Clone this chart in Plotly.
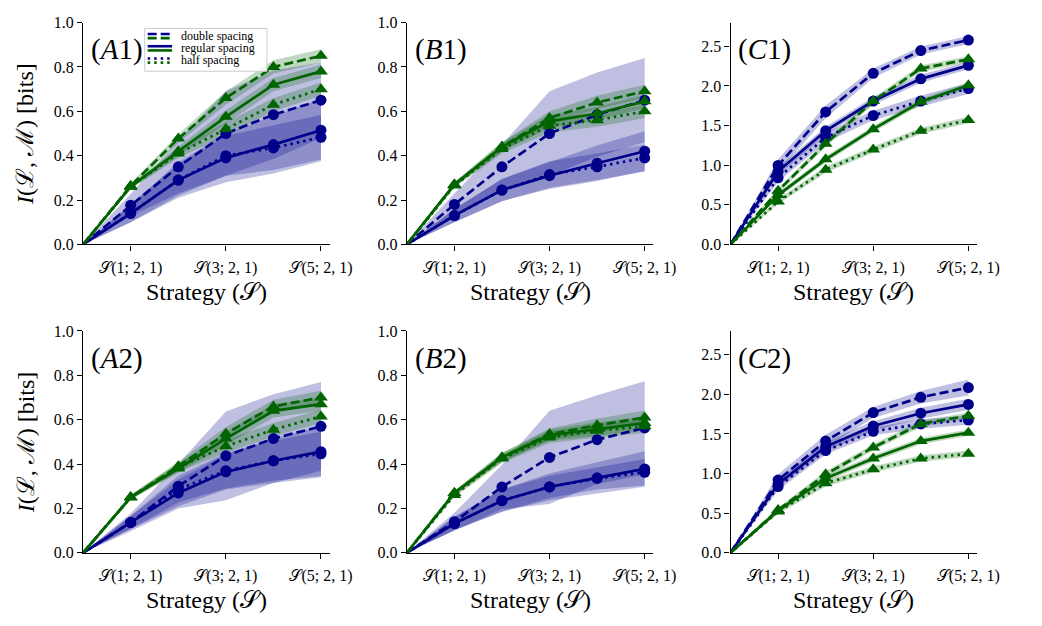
import plotly.graph_objects as go

# ---------------- data ----------------
x_positions = [0, 1, 2, 3, 4, 5]
tick_vals = [1, 3, 5]
tick_labels = ["𝒮(1; 2, 1)", "𝒮(3; 2, 1)", "𝒮(5; 2, 1)"]
spacings = ["double", "regular", "half"]
legend_labels = ["double spacing", "regular spacing", "half spacing"]

# Panel A1
A1_blue_double = [0, 0.177, 0.35, 0.50, 0.585, 0.65]
A1_blue_regular = [0, 0.14, 0.29, 0.39, 0.45, 0.515]
A1_blue_half = [0, 0.14, 0.29, 0.40, 0.435, 0.483]
A1_green_double = [0, 0.264, 0.477, 0.66, 0.80, 0.85]
A1_green_regular = [0, 0.26, 0.42, 0.575, 0.72, 0.78]
A1_green_half = [0, 0.26, 0.41, 0.52, 0.63, 0.70]
A1_blue_double_sd = [0, 0.05, 0.12, 0.19, 0.20, 0.17]
A1_blue_regular_sd = [0, 0.04, 0.08, 0.11, 0.13, 0.14]
A1_blue_half_sd = [0, 0.04, 0.07, 0.09, 0.10, 0.10]
A1_green_sd = [0, 0.01, 0.02, 0.03, 0.03, 0.03]

# Panel A2
A2_blue_double = [0, 0.137, 0.30, 0.437, 0.515, 0.57]
A2_blue_regular = [0, 0.137, 0.27, 0.365, 0.415, 0.456]
A2_blue_half = [0, 0.137, 0.287, 0.37, 0.415, 0.446]
A2_green_double = [0, 0.25, 0.39, 0.537, 0.66, 0.70]
A2_green_regular = [0, 0.25, 0.38, 0.515, 0.64, 0.67]
A2_green_half = [0, 0.25, 0.385, 0.48, 0.555, 0.615]
A2_blue_double_sd = [0, 0.04, 0.10, 0.20, 0.20, 0.20]
A2_blue_regular_sd = [0, 0.03, 0.06, 0.08, 0.10, 0.115]
A2_blue_half_sd = [0, 0.03, 0.06, 0.08, 0.09, 0.10]
A2_green_sd = [0, 0.01, 0.02, 0.03, 0.03, 0.03]

# Panel B1
B1_blue_double = [0, 0.18, 0.35, 0.50, 0.585, 0.65]
B1_blue_regular = [0, 0.13, 0.245, 0.31, 0.366, 0.42]
B1_blue_half = [0, 0.13, 0.245, 0.315, 0.35, 0.39]
B1_green_double = [0, 0.27, 0.44, 0.57, 0.64, 0.69]
B1_green_regular = [0, 0.27, 0.44, 0.555, 0.59, 0.645]
B1_green_half = [0, 0.265, 0.43, 0.535, 0.56, 0.60]
B1_blue_double_sd = [0, 0.05, 0.10, 0.19, 0.19, 0.19]
B1_blue_regular_sd = [0, 0.03, 0.05, 0.06, 0.08, 0.09]
B1_blue_half_sd = [0, 0.03, 0.05, 0.06, 0.06, 0.06]
B1_green_sd = [0, 0.01, 0.02, 0.03, 0.03, 0.03]

# Panel B2
B2_blue_double = [0, 0.14, 0.297, 0.43, 0.51, 0.563]
B2_blue_regular = [0, 0.132, 0.235, 0.297, 0.338, 0.378]
B2_blue_half = [0, 0.132, 0.235, 0.297, 0.335, 0.363]
B2_green_double = [0, 0.27, 0.43, 0.535, 0.575, 0.61]
B2_green_regular = [0, 0.27, 0.43, 0.53, 0.557, 0.585]
B2_green_half = [0, 0.26, 0.425, 0.52, 0.55, 0.57]
B2_blue_double_sd = [0, 0.04, 0.10, 0.21, 0.20, 0.21]
B2_blue_regular_sd = [0, 0.03, 0.05, 0.06, 0.07, 0.08]
B2_blue_half_sd = [0, 0.03, 0.05, 0.05, 0.05, 0.06]
B2_green_sd = [0, 0.01, 0.02, 0.025, 0.03, 0.03]

# Panel C1
C1_blue_double = [0, 0.996, 1.672, 2.16, 2.447, 2.58]
C1_blue_regular = [0, 0.92, 1.434, 1.81, 2.09, 2.26]
C1_blue_half = [0, 0.84, 1.35, 1.627, 1.81, 1.967]
C1_green_double = [0, 0.676, 1.27, 1.81, 2.22, 2.336]
C1_green_regular = [0, 0.623, 1.074, 1.455, 1.80, 2.008]
C1_green_half = [0, 0.54, 0.943, 1.197, 1.434, 1.57]
C1_blue_double_sd = [0, 0.08, 0.08, 0.06, 0.05, 0.05]
C1_blue_regular_sd = [0, 0.05, 0.05, 0.05, 0.05, 0.05]
C1_blue_half_sd = [0, 0.05, 0.06, 0.06, 0.07, 0.07]
C1_green_sd = [0, 0.03, 0.04, 0.04, 0.04, 0.04]

# Panel C2
C2_blue_double = [0, 0.918, 1.41, 1.77, 1.963, 2.086]
C2_blue_regular = [0, 0.87, 1.34, 1.60, 1.762, 1.873]
C2_blue_half = [0, 0.836, 1.29, 1.533, 1.627, 1.676]
C2_green_double = [0, 0.54, 0.99, 1.33, 1.627, 1.73]
C2_green_regular = [0, 0.533, 0.94, 1.19, 1.41, 1.516]
C2_green_half = [0, 0.52, 0.877, 1.053, 1.19, 1.25]
C2_blue_double_sd = [0, 0.07, 0.08, 0.07, 0.08, 0.10]
C2_blue_regular_sd = [0, 0.05, 0.06, 0.06, 0.07, 0.07]
C2_blue_half_sd = [0, 0.05, 0.05, 0.05, 0.06, 0.06]
C2_green_sd = [0, 0.03, 0.04, 0.04, 0.04, 0.04]

g = globals()
panel_names = ["A1", "B1", "C1", "A2", "B2", "C2"]

# ---------------- style ----------------
W, H = 1042, 626
BLUE = "#00008B"
GREEN = "#006400"
BLUE_FILL = "rgba(0,0,139,0.25)"
GREEN_FILL = "rgba(0,100,0,0.25)"
DASH = {"double": "9px,4px", "regular": "solid", "half": "2.5px,4px"}
FONT = "Liberation Serif, DejaVu Serif, serif"

col_px = [(85, 337), (416, 668), (747, 999)]
row_px = [(15, 243), (332, 560)]


def px_x(p):
    return p / W


def px_y(p):
    return 1 - p / H


fig = go.Figure()
layout = dict(
    autosize=True,
    margin=dict(l=0, r=0, t=0, b=0),
    paper_bgcolor="white", plot_bgcolor="white",
    showlegend=False,
    font=dict(family=FONT, color="black", size=15),
)
annotations = []
shapes = []

for i, name in enumerate(panel_names):
    row = i // 3
    col = i % 3
    idx = "" if i == 0 else str(i + 1)
    xa, ya = "x" + idx, "y" + idx
    is_c = name.startswith("C")

    # bands
    for color, fill in ((BLUE, BLUE_FILL), (GREEN, GREEN_FILL)):
        cname = "blue" if color == BLUE else "green"
        for sp in spacings:
            mean = g[f"{name}_{cname}_{sp}"]
            sd = g[f"{name}_blue_{sp}_sd"] if cname == "blue" else g[f"{name}_green_sd"]
            hi = [m + s for m, s in zip(mean, sd)]
            lo = [m - s for m, s in zip(mean, sd)]
            fig.add_trace(go.Scatter(
                x=x_positions + x_positions[::-1], y=hi + lo[::-1],
                fill="toself", fillcolor=fill, line=dict(width=0),
                mode="lines", hoverinfo="skip", xaxis=xa, yaxis=ya))
    # lines
    for cname, color, symbol, msize in (("blue", BLUE, "circle", 11), ("green", GREEN, "triangle-up", 12)):
        for sp in spacings:
            mean = g[f"{name}_{cname}_{sp}"]
            fig.add_trace(go.Scatter(
                x=x_positions, y=mean, mode="lines+markers",
                line=dict(color=color, width=2.7, dash=DASH[sp]),
                marker=dict(symbol=symbol, color=color, opacity=1,
                            line=dict(width=0, color=color),
                            size=[0] + [msize] * (len(mean) - 1)),
                xaxis=xa, yaxis=ya))

    x0, x1 = col_px[col]
    y0, y1 = row_px[row]
    axis_common = dict(
        showgrid=False, zeroline=False, showline=True, linecolor="black",
        linewidth=1.3, ticks="outside", ticklen=5, tickwidth=1.2,
        tickcolor="black", tickfont=dict(family=FONT, size=16, color="black"),
    )
    layout["xaxis" + idx] = dict(
        axis_common, domain=[px_x(x0), px_x(x1)], range=[0, 5.18],
        tickvals=tick_vals, ticktext=tick_labels, anchor=ya,
        ticklabelstandoff=3)
    if is_c:
        yr = [0, 2.8]
        yt = [0, 0.5, 1.0, 1.5, 2.0, 2.5]
    else:
        yr = [0, 1.0]
        yt = [0, 0.2, 0.4, 0.6, 0.8, 1.0]
    layout["yaxis" + idx] = dict(
        axis_common, domain=[px_y(y1), px_y(y0)], range=yr,
        tickvals=yt, ticktext=[f"{v:.1f}" for v in yt], anchor=xa)

    # panel label
    annotations.append(dict(
        x=px_x(x0 + 6), y=px_y(y0 + 28), xref="paper", yref="paper",
        xanchor="left", yanchor="middle", showarrow=False,
        text=f"(<i>{name[0]}</i>{name[1]})",
        font=dict(family=FONT, size=29, color="black")))
    # x axis title
    annotations.append(dict(
        x=px_x((x0 + x1) / 2), y=px_y(y1 + 49), xref="paper", yref="paper",
        xanchor="center", yanchor="middle", showarrow=False,
        text="Strategy (𝒮)", font=dict(family=FONT, size=24, color="black")))
    if col == 0:
        annotations.append(dict(
            x=px_x(26), y=px_y((y0 + y1) / 2), xref="paper", yref="paper",
            xanchor="center", yanchor="middle", showarrow=False, textangle=-90,
            text="<i>I</i>(ℒ, ℳ) [bits]",
            font=dict(family=FONT, size=24, color="black")))

# legend drawn in panel A1
shapes.append(dict(type="rect", xref="paper", yref="paper",
                   x0=px_x(148), x1=px_x(273), y0=px_y(65), y1=px_y(21),
                   fillcolor="rgba(255,255,255,0.8)",
                   line=dict(color="#cccccc", width=1)))
for k, sp in enumerate(spacings):
    by = 26.7 + 12.6 * k
    gy = 31 + 12.6 * k
    for yy, color in ((by, BLUE), (gy, GREEN)):
        shapes.append(dict(type="line", xref="paper", yref="paper",
                           x0=px_x(151), x1=px_x(176), y0=px_y(yy), y1=px_y(yy),
                           line=dict(color=color, width=2.6, dash=DASH[sp])))
    annotations.append(dict(
        x=px_x(183), y=px_y(28.5 + 12.6 * k), xref="paper", yref="paper",
        xanchor="left", yanchor="middle", showarrow=False,
        text=legend_labels[k], font=dict(family=FONT, size=12, color="black")))

layout["annotations"] = annotations
layout["shapes"] = shapes
fig.update_layout(**layout)
fig.write_html(
    "out.html",
    default_width="100vw",
    default_height="100vh",
    config={"displayModeBar": False, "responsive": True},
    post_script="document.body.style.margin='0';document.body.style.overflow='hidden';",
)
